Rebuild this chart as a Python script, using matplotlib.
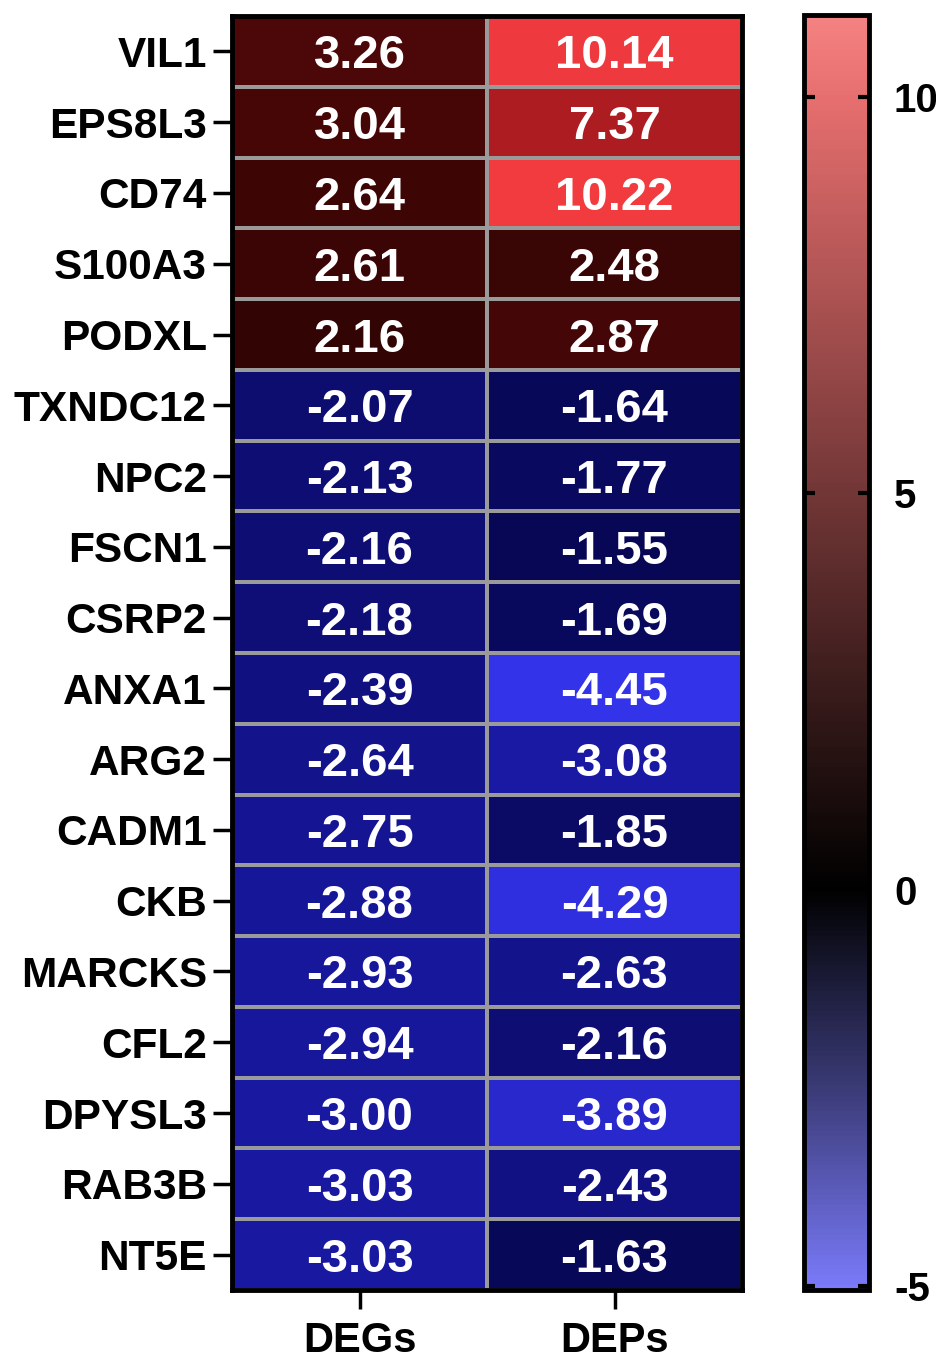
import numpy as np
import matplotlib
matplotlib.use("Agg")
import matplotlib.pyplot as plt
from matplotlib.colors import LinearSegmentedColormap, Normalize
from matplotlib.cm import ScalarMappable

plt.rcParams['font.family'] = ['Liberation Sans', 'DejaVu Sans']
plt.rcParams['font.weight'] = 'bold'

genes = ["VIL1", "EPS8L3", "CD74", "S100A3", "PODXL", "TXNDC12", "NPC2",
         "FSCN1", "CSRP2", "ANXA1", "ARG2", "CADM1", "CKB", "MARCKS",
         "CFL2", "DPYSL3", "RAB3B", "NT5E"]
columns = ["DEGs", "DEPs"]
degs = [3.26, 3.04, 2.64, 2.61, 2.16, -2.07, -2.13, -2.16, -2.18, -2.39,
        -2.64, -2.75, -2.88, -2.93, -2.94, -3.00, -3.03, -3.03]
deps = [10.14, 7.37, 10.22, 2.48, 2.87, -1.64, -1.77, -1.55, -1.69, -4.45,
        -3.08, -1.85, -4.29, -2.63, -2.16, -3.89, -2.43, -1.63]
cbar_ticks = [-5, 0, 5, 10]

vmin, vmax = -5.05, 11.03
norm = Normalize(vmin=vmin, vmax=vmax)


def pos(v):
    return (v - vmin) / (vmax - vmin)


def rgb(r, g, b):
    return (r / 255, g / 255, b / 255)


# diverging map for the cells: bright blue -> black -> bright red
cell_cmap = LinearSegmentedColormap.from_list("cells", [
    (0.0, rgb(66, 66, 255)),
    (pos(-4.45), rgb(50, 50, 232)),
    (pos(-3.0), rgb(23, 23, 158)),
    (pos(-1.5), rgb(6, 6, 82)),
    (pos(0.0), rgb(0, 0, 0)),
    (pos(3.0), rgb(70, 6, 6)),
    (pos(7.37), rgb(172, 28, 32)),
    (pos(10.14), rgb(238, 58, 62)),
    (1.0, rgb(255, 68, 70)),
])

# softer version used for the scale bar
bar_cmap = LinearSegmentedColormap.from_list("bar", [
    (0.0, rgb(122, 122, 250)),
    (pos(-2.5), rgb(58, 58, 118)),
    (pos(0.0), rgb(0, 0, 0)),
    (pos(5.0), rgb(114, 54, 54)),
    (pos(10.0), rgb(230, 110, 110)),
    (1.0, rgb(245, 130, 130)),
])

W, H = 937, 1359
fig = plt.figure(figsize=(W / 100, H / 100), dpi=100)

ax = fig.add_axes([232 / W, 1 - 1290 / H, 510 / W, 1274 / H])
data = np.column_stack([degs, deps])
nrows, ncols = data.shape
ax.pcolormesh(np.arange(ncols + 1), np.arange(nrows + 1), data,
              cmap=cell_cmap, norm=norm, edgecolors="#9a9a9a", linewidth=1.6)
ax.set_xlim(0, ncols)
ax.set_ylim(nrows, 0)

for i in range(nrows):
    for j in range(ncols):
        ax.text(j + 0.5, i + 0.5, f"{data[i, j]:.2f}", ha="center",
                va="center_baseline", color="white", fontsize=34,
                fontweight="bold")

ax.set_yticks(np.arange(nrows) + 0.5)
ax.set_yticklabels(genes, fontsize=30.5, fontweight="bold")
ax.set_xticks(np.arange(ncols) + 0.5)
ax.set_xticklabels(columns, fontsize=30, fontweight="bold")
ax.tick_params(axis="y", length=14, width=2.5, pad=4, direction="out")
ax.tick_params(axis="x", length=14, width=2.5, pad=8, direction="out")
for s in ax.spines.values():
    s.set_linewidth(3.5)

cax = fig.add_axes([804 / W, 1 - 1290 / H, 65 / W, 1275 / H])
sm = ScalarMappable(norm=norm, cmap=bar_cmap)
cb = fig.colorbar(sm, cax=cax)
cb.outline.set_linewidth(3.5)
cb.set_ticks(cbar_ticks)
cb.set_ticklabels([str(t) for t in cbar_ticks])
cax.tick_params(direction="in", left=True, right=True, length=8, width=3,
                pad=18, labelsize=29)
for lbl in cax.get_yticklabels():
    lbl.set_fontweight("bold")

fig.savefig("out.png", dpi=100)
